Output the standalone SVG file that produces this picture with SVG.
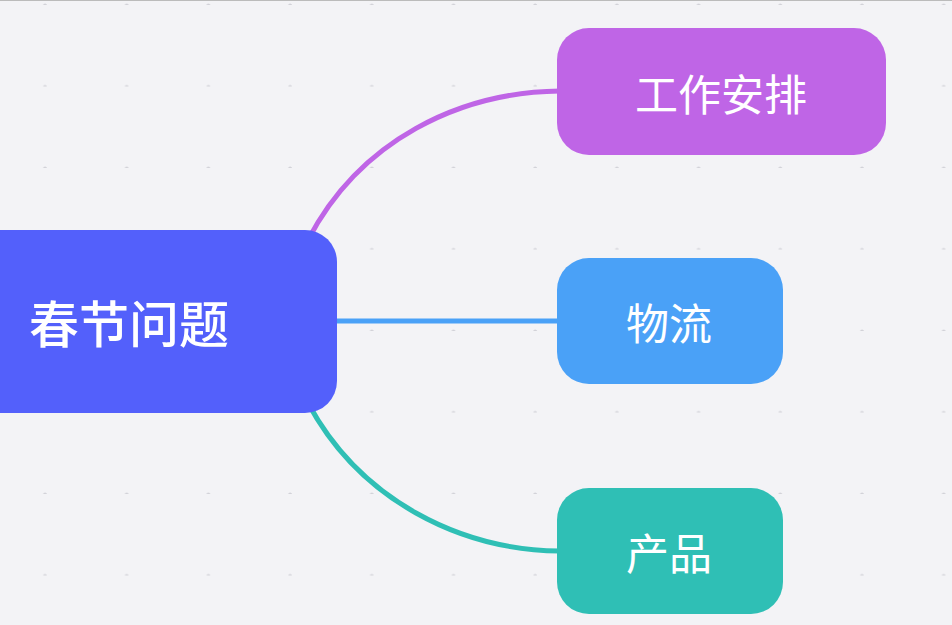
<svg xmlns="http://www.w3.org/2000/svg" width="952" height="625" viewBox="0 0 952 625">
<defs>
<pattern id="dots" x="4" y="5" width="81.7" height="81.5" patternUnits="userSpaceOnUse"><circle cx="41" cy="82" r="2" fill="#d2d2d8"/></pattern>
<style>.t{fill:#fff;font-family:"Noto Sans CJK SC","Noto Sans",sans-serif;text-anchor:middle;dominant-baseline:central}.c{fill:none;stroke-width:5;stroke-linecap:round}</style>
</defs>
<rect width="952" height="625" fill="#f3f3f6"/>
<rect width="952" height="625" fill="url(#dots)"/>
<line x1="0" y1="0.5" x2="952" y2="0.5" stroke="#bbb"/>
<g id="connectors">
<path class="c" stroke="#bf65e6" d="M308,240 C360,140 460,92 560,91"/>
<path class="c" stroke="#4aa1f7" d="M330,321 L560,321"/>
<path class="c" stroke="#2fbfb5" d="M308,403 C360,500 460,550 560,551"/>
</g>
<g id="center"><rect x="-40" y="230" width="377" height="183" rx="32" fill="#5360fb"/><text class="t" x="129" y="321" font-size="50" font-weight="500">春节问题</text></g>
<g id="n1"><rect x="557" y="28" width="329" height="127" rx="32" fill="#bf65e6"/><text class="t" x="721" y="92" font-size="43">工作安排</text></g>
<g id="n2"><rect x="557" y="258" width="226" height="126" rx="32" fill="#4aa1f7"/><text class="t" x="669" y="321" font-size="43">物流</text></g>
<g id="n3"><rect x="557" y="488" width="226" height="126" rx="32" fill="#2fbfb5"/><text class="t" x="669" y="551" font-size="43">产品</text></g>
</svg>
